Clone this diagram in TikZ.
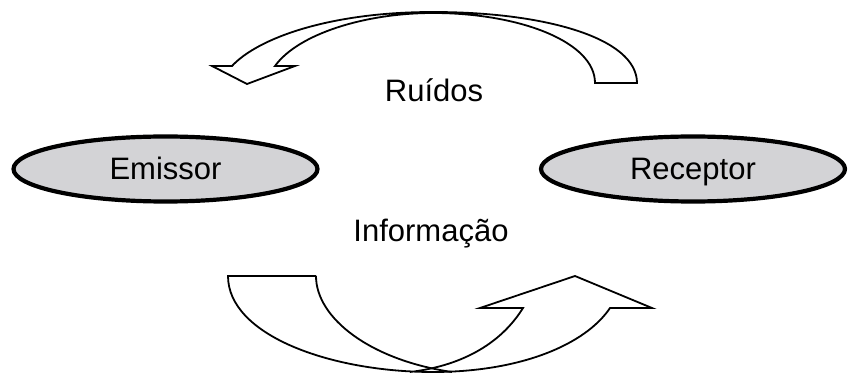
\documentclass[tikz,border=0pt]{standalone}
\usepackage{fontspec}
\setmainfont{Liberation Sans}
\usetikzlibrary{shapes.geometric}
\definecolor{ovalgray}{RGB}{211,211,214}

\begin{document}
\begin{tikzpicture}[
  x=1pt, y=-1pt,
  oval/.style={ellipse, draw=black, line width=4.2pt, fill=ovalgray,
    minimum width=304pt, minimum height=65pt, inner sep=0pt,
    text height=22pt, text depth=0pt, font=\fontsize{31}{37}\selectfont},
  lbl/.style={anchor=base, inner sep=0pt, font=\fontsize{31}{37}\selectfont},
  bigarrow/.style={draw=black, line width=1.8pt, line join=miter}
]
\useasboundingbox (0,0) rectangle (848,374);
% Emissor and Receptor
\node[oval] (emissor) at (165.5,169) {Emissor};
\node[oval] (receptor) at (693,169) {Receptor};
% labels
\node[lbl] (ruidos) at (434,102) {Ruídos};
\node[lbl] (info) at (431,241) {Informação};
% Top: curved arrow back to the left
\draw[bigarrow] (637,83) .. controls (637,38) and (545,12) .. (433,12)
  .. controls (330,12) and (258,38) .. (232,66)
  -- (212,66) -- (247,84) -- (295,66) -- (275,66)
  .. controls (298,34) and (365,13) .. (433,13)
  .. controls (520,13) and (595,42) .. (595,83) -- cycle;
% Bottom: curved arrow on to the right
\draw[bigarrow] (316,276) -- (228,276)
  .. controls (228,335) and (330,372) .. (433,372)
  .. controls (520,372) and (585,345) .. (610,308)
  -- (652,308) -- (575,276) -- (480,308) -- (523,308)
  .. controls (500,345) and (460,366) .. (410,372);
\draw[bigarrow] (316,276) .. controls (316,318) and (370,360) .. (452,372);
\end{tikzpicture}
\end{document}
